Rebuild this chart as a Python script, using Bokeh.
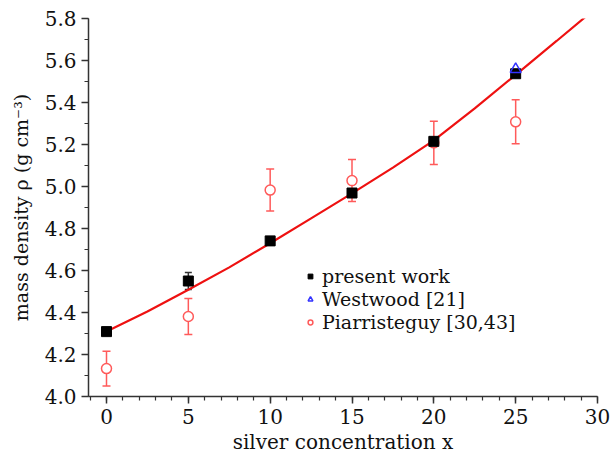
from bokeh.plotting import figure
from bokeh.models import (ColumnDataSource, Whisker, TeeHead, Legend, LegendItem, FixedTicker,
                          Range1d, CustomJSTickFormatter)
from bokeh.embed import file_html
from bokeh.resources import INLINE

# data
x_present = [0, 5, 10, 15, 20, 25]
rho_present = [4.309, 4.55, 4.741, 4.969, 5.215, 5.537]
err_present = [0.01, 0.04, 0.01, 0.02, 0.01, 0.01]

x_west = [25]
rho_west = [5.558]

x_piar = [0, 5, 10, 15, 20, 25]
rho_piar = [4.133, 4.381, 4.983, 5.028, 5.208, 5.308]
err_piar = [0.083, 0.086, 0.1, 0.1, 0.103, 0.105]

x_fit = [0, 2.5, 5, 7.5, 10, 12.5, 15, 17.5, 20, 22.5, 25, 27.5, 29.3]
rho_fit = [4.31, 4.405, 4.508, 4.615, 4.73, 4.848, 4.967, 5.09, 5.22, 5.372, 5.532, 5.693, 5.81]

x_ticks = [0, 5, 10, 15, 20, 25, 30]
y_ticks = [4.0, 4.2, 4.4, 4.6, 4.8, 5.0, 5.2, 5.4, 5.6, 5.8]

SERIF = "DejaVu Serif"

p = figure(width=610, height=456, output_backend="svg", toolbar_location=None,
           x_range=Range1d(-1.1, 30), y_range=Range1d(4.0, 5.8),
           min_border_left=88, min_border_right=13, min_border_top=18, min_border_bottom=59)
p.outline_line_color = None
p.grid.visible = False
p.background_fill_color = "white"
p.border_fill_color = "white"

for ax in (p.xaxis[0], p.yaxis[0]):
    ax.axis_line_color = "#333333"
    ax.axis_line_width = 1.5
    ax.major_tick_line_color = "#333333"
    ax.minor_tick_line_color = "#333333"
    ax.major_tick_line_width = 1.5
    ax.minor_tick_line_width = 1.2
    ax.major_tick_out = 7
    ax.major_tick_in = 0
    ax.minor_tick_out = 4
    ax.minor_tick_in = 0
    ax.major_label_text_font = SERIF
    ax.major_label_text_font_size = "20px"
    ax.major_label_text_color = "#111111"
    ax.axis_label_text_font = SERIF
    ax.axis_label_text_font_style = "normal"
    ax.axis_label_text_color = "#111111"

p.xaxis.axis_label_text_font_size = "20px"
p.yaxis.axis_label_text_font_size = "19px"
p.xaxis.ticker = FixedTicker(ticks=x_ticks, minor_ticks=list(range(-1, 31)))
p.yaxis.ticker = FixedTicker(ticks=y_ticks, minor_ticks=[round(4.0 + 0.1 * i, 1) for i in range(19)])
p.yaxis.formatter = CustomJSTickFormatter(code="return tick.toFixed(1)")
p.xaxis.axis_label = "silver concentration x"
p.yaxis.axis_label = "mass density ρ (g cm⁻³)"
p.xaxis.axis_label_standoff = 3
p.yaxis.axis_label_standoff = 10
p.xaxis.major_label_standoff = 5
p.yaxis.major_label_standoff = 5

red = "#ff5a5a"

src_piar = ColumnDataSource(dict(x=x_piar, y=rho_piar,
                                 lo=[v - e for v, e in zip(rho_piar, err_piar)],
                                 hi=[v + e for v, e in zip(rho_piar, err_piar)]))
w1 = Whisker(source=src_piar, base="x", lower="lo", upper="hi", line_color=red, line_width=1.5,
             upper_head=TeeHead(size=8, line_color=red, line_width=1.5),
             lower_head=TeeHead(size=8, line_color=red, line_width=1.5))
p.add_layout(w1)
r_piar = p.scatter("x", "y", source=src_piar, marker="circle", size=10, fill_color="white",
                   line_color=red, line_width=1.5)

src_pres = ColumnDataSource(dict(x=x_present, y=rho_present,
                                 lo=[v - e for v, e in zip(rho_present, err_present)],
                                 hi=[v + e for v, e in zip(rho_present, err_present)]))
w2 = Whisker(source=src_pres, base="x", lower="lo", upper="hi", line_color="#333333", line_width=1.5,
             upper_head=TeeHead(size=7, line_color="#333333", line_width=1.5),
             lower_head=TeeHead(size=7, line_color="#333333", line_width=1.5))
p.add_layout(w2)

p.line(x_fit, rho_fit, line_color="#ee1111", line_width=2.2)

r_pres = p.scatter("x", "y", source=src_pres, marker="square", size=10, fill_color="black",
                   line_color="black")
r_west = p.scatter(x_west, rho_west, marker="triangle", size=11, fill_color=None,
                   line_color="#3333ff", line_width=1.5)

# legend glyph proxies (small)
lg_pres = p.scatter([-100], [0], marker="square", size=7, fill_color="black", line_color="black")
lg_west = p.scatter([-100], [0], marker="triangle", size=9, fill_color=None, line_color="#3333ff", line_width=1.5)
lg_piar = p.scatter([-100], [0], marker="circle", size=8, fill_color=None, line_color=red, line_width=1.5)

legend = Legend(items=[LegendItem(label="present work", renderers=[lg_pres]),
                       LegendItem(label="Westwood [21]", renderers=[lg_west]),
                       LegendItem(label="Piarristeguy [30,43]", renderers=[lg_piar])],
                location=(216, 63), border_line_color=None, background_fill_alpha=0,
                label_text_font=SERIF, label_text_font_size="19px", label_text_color="#111111",
                glyph_width=12, glyph_height=14, label_standoff=6, spacing=0, padding=0, margin=0,
                label_height=23)
p.add_layout(legend)

open("out.html", "w").write(file_html(p, INLINE))
